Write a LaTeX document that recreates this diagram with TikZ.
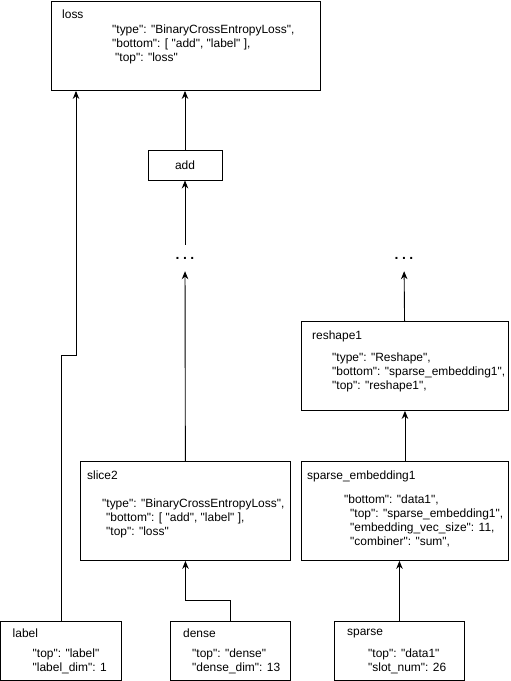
\documentclass[tikz,border=0pt]{standalone}
\usepackage{fontspec}
\setmainfont{Liberation Sans}[Ligatures=TeXOff]
\usetikzlibrary{positioning,arrows.meta}

\begin{document}
\begin{tikzpicture}[
  x=1bp, y=-1bp,
  font=\fontsize{12}{14}\selectfont,
  box/.style={draw, line width=0.9pt, anchor=north west, inner sep=0pt},
  ttl/.style={anchor=north west, inner sep=0pt},
  body/.style={anchor=north west, inner sep=0pt, align=left},
  dots/.style={inner sep=0pt, minimum height=26bp, font=\fontsize{14}{14}\selectfont\bfseries},
  arr/.style={-{Stealth[length=8bp,width=6.5bp]}, line width=0.9pt}
]
\useasboundingbox (0,0) rectangle (511,681);

% boxes
\node[box, minimum width=269bp, minimum height=89bp] (loss) at (51,1) {};
\node[box, minimum width=74bp, minimum height=30bp, anchor=center] (add) at (185,165) {add};
\node[dots] (dotsA) at (185,258) {.\hspace{3.5bp}.\hspace{3.5bp}.};
\node[dots] (dotsB) at (404,258) {.\hspace{3.5bp}.\hspace{3.5bp}.};
\node[box, minimum width=207bp, minimum height=89bp] (reshape) at (301,321) {};
\node[box, minimum width=210bp, minimum height=99bp] (slice) at (80,461) {};
\node[box, minimum width=207bp, minimum height=99bp] (sparseEmb) at (301,461) {};
\node[box, minimum width=120bp, minimum height=59bp] (labelIn) at (0.5,621) {};
\node[box, minimum width=120bp, minimum height=59bp] (denseIn) at (170,621) {};
\node[box, minimum width=130bp, minimum height=59bp] (sparseIn) at (334,621) {};

% texts
\node[ttl, below right=9bp and 11bp of loss.north west] (lossT) {loss};
\node[body, below right=24bp and 61bp of loss.north west] (lossB)
  {"type": "BinaryCrossEntropyLoss",\\"bottom": [ "add", "label" ],\\\hspace{3bp}"top": "loss"};

\node[ttl, below right=10bp and 11bp of reshape.north west] (reshapeT) {reshape1};
\node[body, below right=32bp and 31bp of reshape.north west] (reshapeB)
  {"type": "Reshape",\\"bottom": "sparse\_embedding1",\\"top": "reshape1",};

\node[ttl, below right=10bp and 7bp of slice.north west] (sliceT) {slice2};
\node[body, below right=38bp and 22bp of slice.north west] (sliceB)
  {"type": "BinaryCrossEntropyLoss",\\\hspace{4bp}"bottom": [ "add", "label" ],\\\hspace{4bp}"top": "loss"};

\node[ttl, below right=10bp and 6bp of sparseEmb.north west] (sparseEmbT) {sparse\_embedding1};
\node[body, below right=34bp and 43bp of sparseEmb.north west] (sparseEmbB)
  {"bottom": "data1",\\\hspace{6bp}"top": "sparse\_embedding1",\\\hspace{6bp}"embedding\_vec\_size": 11,\\\hspace{6bp}"combiner": "sum",};

\node[ttl, below right=8bp and 12bp of labelIn.north west] (labelT) {label};
\node[body, below right=28bp and 32bp of labelIn.north west] (labelB)
  {"top": "label"\\"label\_dim": 1};

\node[ttl, below right=8bp and 13bp of denseIn.north west] (denseT) {dense};
\node[body, below right=28bp and 22bp of denseIn.north west] (denseB)
  {"top": "dense"\\"dense\_dim": 13};

\node[ttl, below right=8bp and 13bp of sparseIn.north west] (sparseT) {sparse};
\node[body, below right=28bp and 34bp of sparseIn.north west] (sparseB)
  {"top": "data1"\\"slot\_num": 26};

% connectors
\coordinate (bendL) at (76,355);
\draw[arr] (add) -- (add |- loss.south);
\draw[arr] (dotsA) -- (add);
\draw[arr] (slice) -- (dotsA);
\draw[arr] (reshape) -- (dotsB);
\draw[arr] (sparseEmb) -- (reshape);
\draw[arr] (sparseIn.north) -- (sparseIn.north |- sparseEmb.south);
\draw[arr] (denseIn.north) -- ++(0,-21) -| (slice.south);
\draw[arr] (labelIn.north) |- (bendL) -- (bendL |- loss.south);

\end{tikzpicture}
\end{document}
